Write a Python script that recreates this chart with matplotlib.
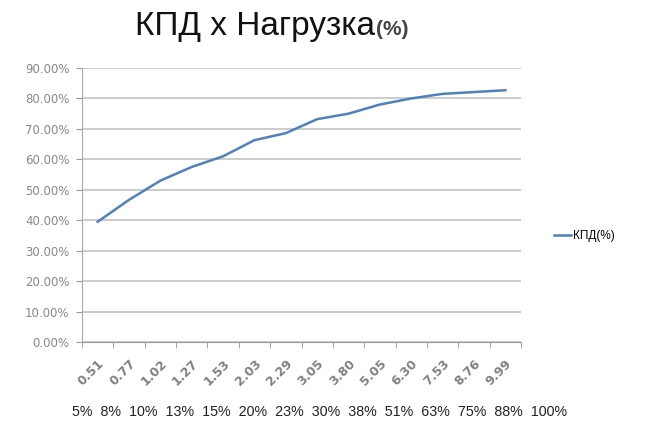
import matplotlib
matplotlib.use('Agg')
import matplotlib.pyplot as plt
import numpy as np

# data
load_labels = ['0.51', '0.77', '1.02', '1.27', '1.53', '2.03', '2.29',
               '3.05', '3.80', '5.05', '6.30', '7.53', '8.76', '9.99']
efficiency = [39.5, 46.7, 53.0, 57.5, 61.0, 66.3, 68.6,
              73.2, 75.0, 78.0, 80.0, 81.5, 82.1, 82.7]
load_percent = ['5%', '8%', '10%', '13%', '15%', '20%', '23%',
                '30%', '38%', '51%', '63%', '75%', '88%', '100%']
y_ticks = np.arange(0, 100, 10)

plt.rcParams['font.family'] = ['Liberation Sans', 'DejaVu Sans']

fig = plt.figure(figsize=(6.45, 4.25), dpi=100)
ax = fig.add_axes([82/645, 1-342/425, (521-82)/645, (342-68)/425])

x = np.arange(len(efficiency))
line, = ax.plot(x, efficiency, color='#4f81bd', lw=1.8, label='КПД(%)')

ax.set_xlim(-0.5, len(efficiency) - 0.5)
ax.set_ylim(0, 90)
ax.set_yticks(y_ticks)
ax.set_yticklabels(['%.2f%%' % v for v in y_ticks], fontsize=8.5, color='#888888',
                   family='DejaVu Sans')
ax.yaxis.grid(True, color='#c8c8c8', lw=1.3)
ax.set_axisbelow(True)

# category ticks between categories, labels at centers
ax.set_xticks(x)
ax.set_xticklabels(load_labels, rotation=45, ha='right', rotation_mode='anchor',
                   fontsize=9, color='#808080', fontweight='bold', family='DejaVu Sans')
ax.set_xticks(np.arange(len(efficiency) + 1) - 0.5, minor=True)
ax.tick_params(axis='x', which='major', length=0, pad=11)
ax.tick_params(axis='x', which='minor', length=4, color='#999999', direction='out')
ax.tick_params(axis='y', length=4, color='#999999', pad=5)

for s in ['top', 'right']:
    ax.spines[s].set_visible(False)
ax.spines['left'].set_color('#aaaaaa')
ax.spines['bottom'].set_color('#999999')

# title
t = fig.text(135/645, 1-35/425, 'КПД x Нагрузка', fontsize=24, color='#111111',
             ha='left', va='baseline')
ax.annotate('(%)', xy=(1, 0), xycoords=t, xytext=(1, 2), textcoords='offset points',
            fontsize=15, fontweight='bold', color='#444444', va='bottom', ha='left')

# legend
fig.legend(handles=[line], loc='center left', bbox_to_anchor=(543/645, 1-236/425),
           frameon=False, fontsize=8.5, handlelength=1.5, handletextpad=0.1)

# load row under the chart
fig.text(72/645, 1-412/425, '  '.join(load_percent), fontsize=10.3, color='#222222',
         ha='left', va='center')

fig.savefig('out.png', dpi=100)
